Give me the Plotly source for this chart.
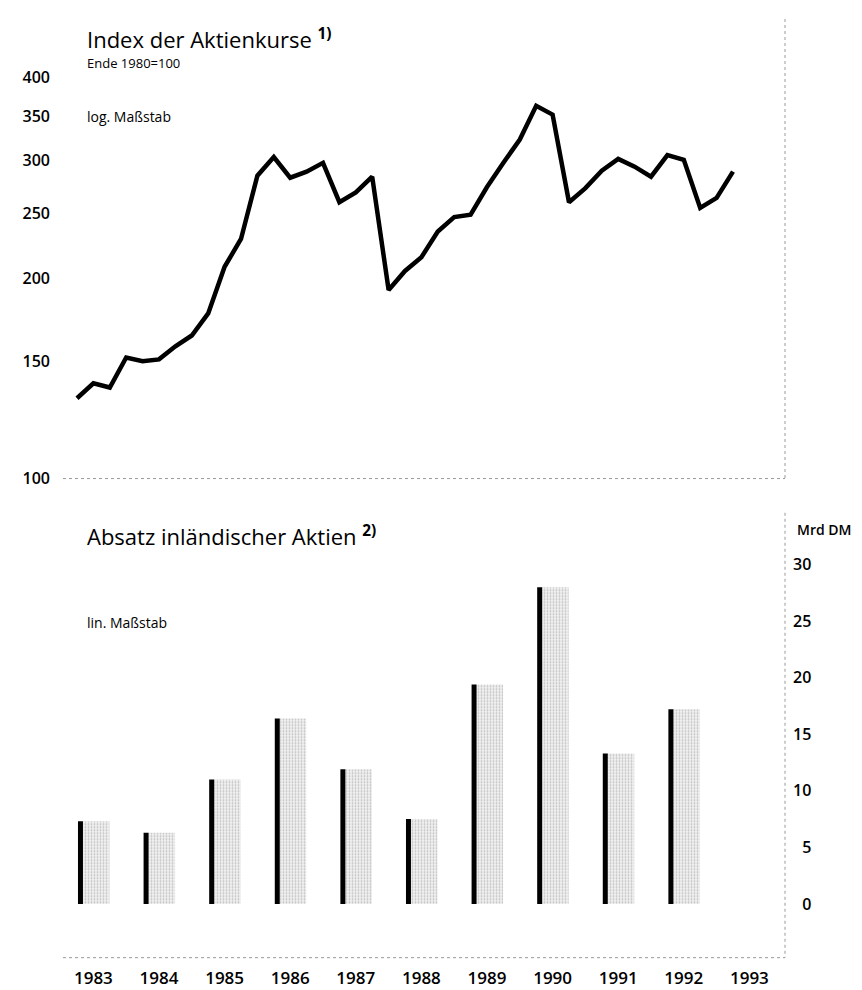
import plotly.graph_objects as go

# Index der Aktienkurse (Ende 1980=100), Quartalswerte 1983 bis Anfang 1993
quartale = [1983 + q / 4 for q in range(41)]
kurs_index = [132, 139, 137, 152, 150, 151, 158, 164, 177, 208, 229, 285, 304,
              283, 289, 298, 260, 269, 284, 192, 205, 215, 235, 247, 249, 274,
              298, 323, 363, 352, 260, 273, 290, 302, 294, 284, 306, 301, 255,
              264, 289]

# Absatz inländischer Aktien in Mrd DM
jahre = [1983, 1984, 1985, 1986, 1987, 1988, 1989, 1990, 1991, 1992]
absatz = [7.3, 6.3, 11.0, 16.4, 11.9, 7.5, 19.4, 28.0, 13.3, 17.2]

jahr_labels = [str(j) for j in range(1983, 1994)]
log_ticks = [100, 150, 200, 250, 300, 350, 400]
lin_ticks = [0, 5, 10, 15, 20, 25, 30]

W, H = 862, 990
FONT = "Open Sans"
GRAU = "#9a9a9a"


def px_x(v):
    return v / W


def px_y(v):
    return 1 - v / H


fig = go.Figure()

fig.add_trace(go.Scatter(x=quartale, y=kurs_index, mode="lines",
                         line=dict(color="black", width=4.5),
                         xaxis="x2", yaxis="y2", showlegend=False))

fig.add_trace(go.Bar(x=[j + 0.29 for j in jahre], y=absatz, width=0.41,
                     marker=dict(color="#f2f2f2", line=dict(width=0),
                                 pattern=dict(shape=".", fgcolor="#8a8a8a",
                                              size=3, solidity=0.3)),
                     showlegend=False))
fig.add_trace(go.Bar(x=[j + 0.053 for j in jahre], y=absatz, width=0.076,
                     marker=dict(color="black", line=dict(width=0)),
                     showlegend=False))

x_range = [1983 - 14 / 65.6, 1983 + 708 / 65.6]
x_dom = [px_x(55), px_x(777)]

fig.update_layout(
    width=W, height=H,
    margin=dict(l=0, r=0, t=0, b=0),
    paper_bgcolor="white", plot_bgcolor="white",
    barmode="overlay",
    font=dict(family=FONT, color="black"),
    xaxis=dict(domain=x_dom, range=x_range, showgrid=False, zeroline=False,
               showline=False, tickvals=[j + 0.25 for j in range(1983, 1994)],
               ticktext=jahr_labels, ticks="", ticklabelstandoff=8,
               tickfont=dict(size=17, weight=600)),
    yaxis=dict(domain=[px_y(960), px_y(558)], range=[-55 / 11.57, 30],
               side="right", showgrid=False, zeroline=False, showline=False,
               tickvals=lin_ticks,
               ticktext=[("\u2007" + str(t)) if t < 10 else str(t) for t in lin_ticks],
               ticks="", ticklabelstandoff=7,
               tickfont=dict(size=16, weight=600)),
    xaxis2=dict(domain=x_dom, range=x_range, anchor="y2", showgrid=False,
                zeroline=False, showline=False, showticklabels=False, ticks=""),
    yaxis2=dict(domain=[px_y(470), px_y(60)], type="log", anchor="x2",
                range=[2, 2.60206], showgrid=False, zeroline=False,
                showline=False, tickvals=log_ticks, ticks="",
                ticklabelstandoff=12, tickfont=dict(size=16, weight=600)),
)

punkt = dict(color=GRAU, width=1, dash="dot")
rahmen = [
    (777, 0, 777, 470),
    (55, 470, 777, 470),
    (777, 505, 777, 960),
    (55, 960, 777, 960),
]
for x0, y0, x1, y1 in rahmen:
    fig.add_shape(type="line", xref="paper", yref="paper",
                  x0=px_x(x0), y0=px_y(y0), x1=px_x(x1), y1=px_y(y1), line=punkt)

texte = [
    ("Index der Aktienkurse <b><sup>1)</sup></b>", 77, 20, 22, 400),
    ("Ende 1980=100", 77, 45, 13, 500),
    ("log. Maßstab", 77, 100, 14, 500),
    ("Absatz inländischer Aktien <b><sup>2)</sup></b>", 77, 528, 22, 400),
    ("lin. Maßstab", 77, 617, 14, 500),
    ("Mrd DM", 787, 522, 14, 600),
]
for txt, x, y, size, weight in texte:
    fig.add_annotation(text=txt, xref="paper", yref="paper", x=px_x(x), y=px_y(y),
                       xanchor="left", yanchor="middle", showarrow=False,
                       font=dict(size=size, weight=weight, family=FONT))

fig.write_html("out.html")
